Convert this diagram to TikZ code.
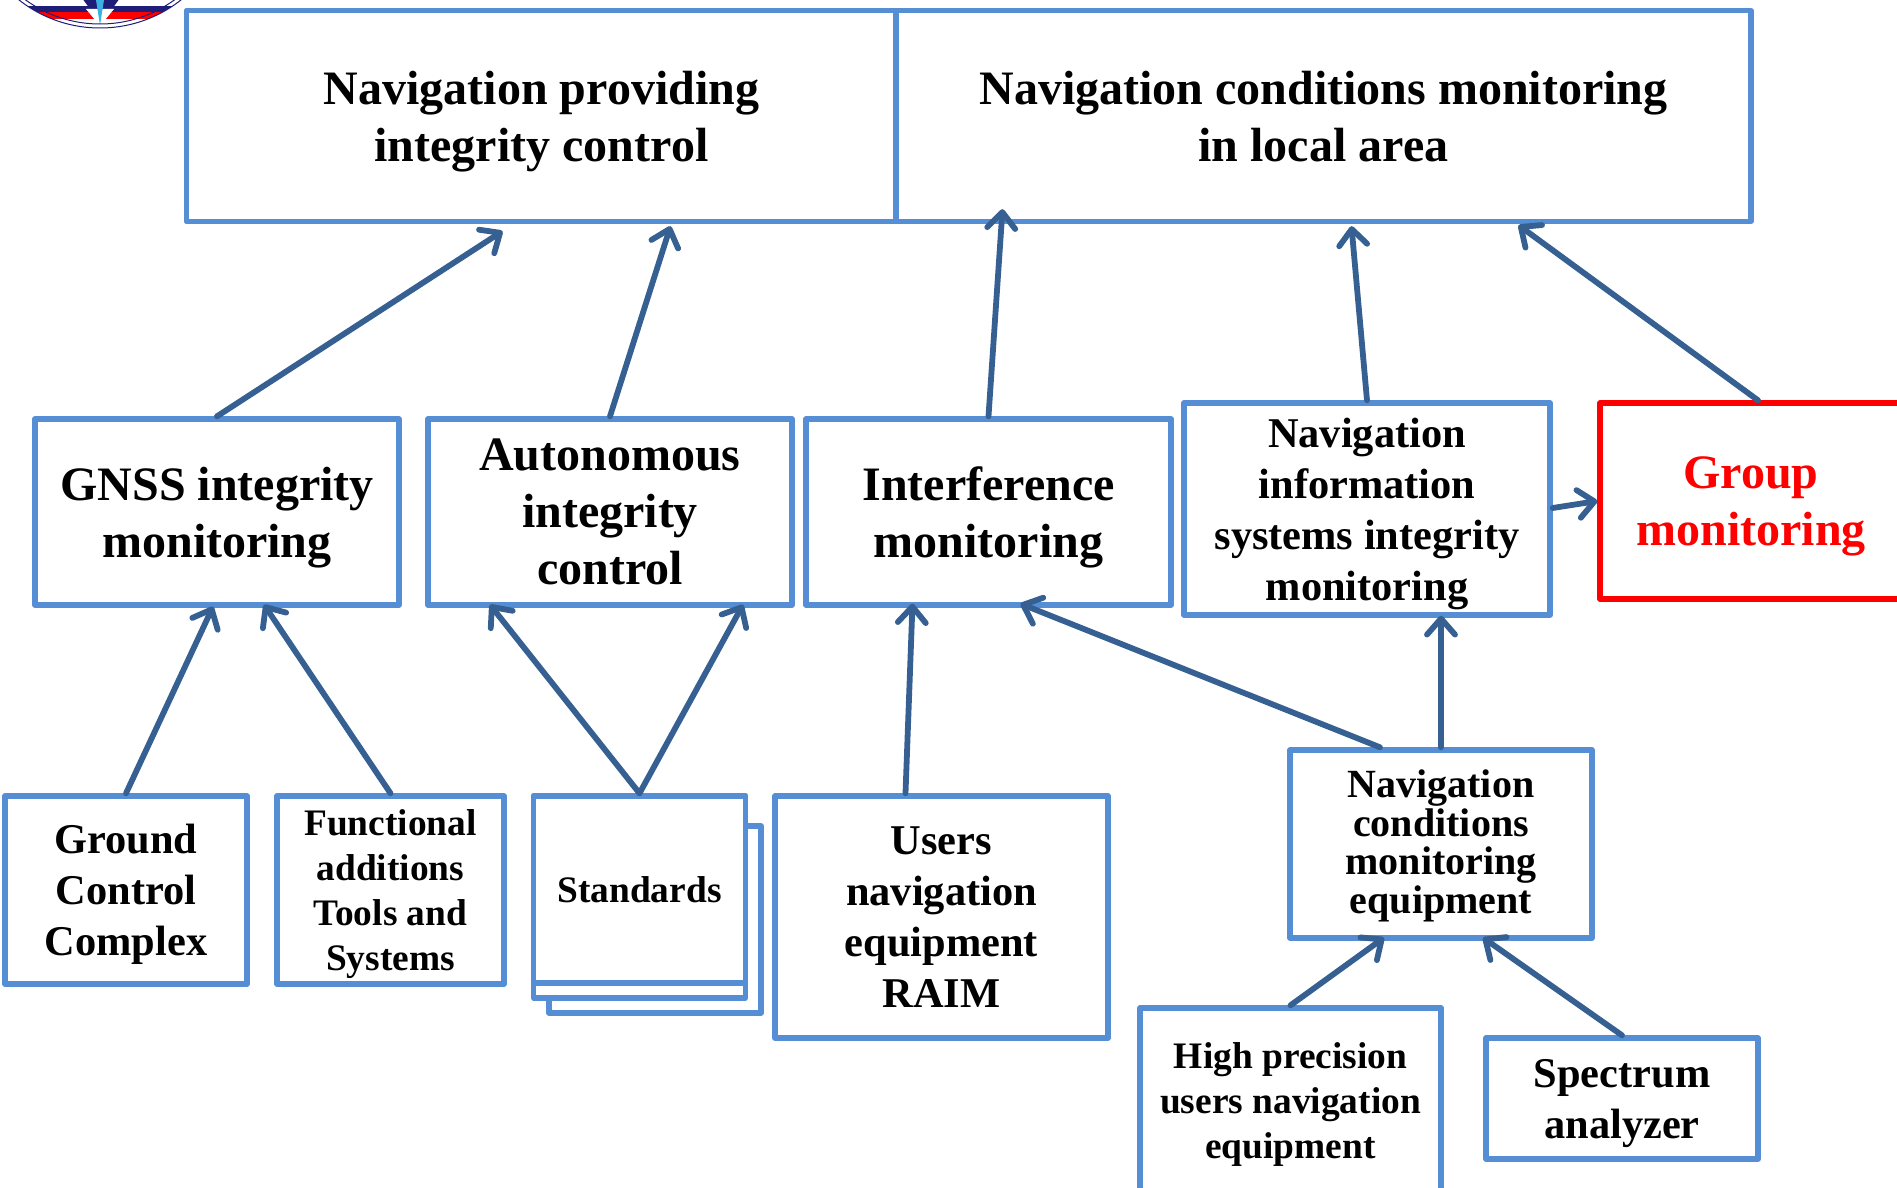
\documentclass[tikz,border=0pt]{standalone}
\usepackage{fontspec}
\setmainfont{Liberation Serif}
\usetikzlibrary{arrows.meta,calc}
\definecolor{myblue}{RGB}{85,142,213}
\definecolor{myarrow}{RGB}{54,96,146}
\definecolor{myred}{RGB}{255,0,0}
\definecolor{mynavy}{RGB}{30,30,120}
\newcommand{\fontbig}{\fontsize{24}{28.5}\selectfont\bfseries}
\newcommand{\fontmid}{\fontsize{21.2}{25.5}\selectfont\bfseries}
\newcommand{\fonttight}{\fontsize{20}{19.4}\selectfont\bfseries}
\newcommand{\fontsmall}{\fontsize{18.7}{22.4}\selectfont\bfseries}
\tikzset{
    common/.style={draw=myblue, line width=2.7pt, fill=white, align=center, inner sep=0pt, line join=round},
    bigbox/.style={common, font=\fontbig, text depth=-2.4pt},
    midbox/.style={common, font=\fontmid, text depth=-4pt},
    tightbox/.style={common, font=\fonttight, text depth=2.4pt},
    smallbox/.style={common, font=\fontsmall, text depth=-4.6pt},
    redbox/.style={bigbox, draw=myred, text=myred},
    % w and h are in pixels of the picture
    size/.style 2 args={minimum width=#1*0.5pt, minimum height=#2*0.5pt},
    link/.style={draw=myarrow, line width=2.9pt, line cap=round,
        -{Straight Barb[length=8pt, width=14pt, line width=2.9pt, round]}}
}
\begin{document}
\begin{tikzpicture}[x=0.5pt, y=-0.5pt]
    \clip (0,0) rectangle (1897,1188);

    % emblem, cut by the top edge
    \begin{scope}
        \clip (100,-103) circle (131);
        \fill[white] (-40,-10) rectangle (240,30);
        \fill[mynavy] (-40,6) rectangle (240,12);
        \fill[myred] (-40,12) rectangle (240,19);
        \fill[mynavy] (82,-2) -- (120,-2) -- (112,9) -- (90,9) -- cycle;
        \fill[white] (86,9) -- (114,9) -- (100,26) -- cycle;
        \fill[myblue!70!cyan] (96,0) -- (104,0) -- (100,25) -- cycle;
    \end{scope}
    \draw[mynavy, line width=0.5pt] (100,-103) circle (131) (100,-103) circle (127);

    % top row
    \node[bigbox, size={710}{211}] (providing) at (541.5,116) {Navigation providing\\integrity control};
    \node[bigbox, size={855}{211}] (conditions) at (1323.5,116) {Navigation conditions monitoring\\in local area};

    % middle row
    \node[bigbox, size={364}{186}] (gnss) at (217,512) {GNSS integrity\\monitoring};
    \node[bigbox, size={364}{186}] (autonomous) at (610,512) {Autonomous\\integrity\\control};
    \node[bigbox, size={365}{186}] (interference) at (988.5,512) {Interference\\monitoring};
    \node[midbox, size={366}{212}] (information) at (1367,509) {Navigation\\information\\systems integrity\\monitoring};
    \node[redbox, size={302}{196}, text depth=-4pt] (group) at (1751,501) {Group\\monitoring};

    % bottom row
    \node[midbox, size={242}{188}] (ground) at (126,890) {Ground\\Control\\Complex};
    \node[smallbox, size={227}{188}] (functional) at (390.5,890) {Functional\\additions\\Tools and\\Systems};
    \node[smallbox, size={212}{187}] (sheetc) at (655,919.5) {};
    \node[smallbox, size={212}{202}] (sheetb) at (639.5,897) {};
    \node[smallbox, size={212}{187}, text depth=-5.2pt] (standards) at (639.5,889.5) {Standards};
    \node[midbox, size={333}{242}] (users) at (941.5,917) {Users\\navigation\\equipment\\RAIM};
    \node[tightbox, size={302}{188}] (equipment) at (1441,844) {Navigation\\conditions\\monitoring\\equipment};
    \node[smallbox, size={301}{190}, text depth=2.4pt] (precision) at (1290.5,1103) {High precision\\users navigation\\equipment};
    \node[midbox, size={272}{121}] (spectrum) at (1622,1098.5) {Spectrum\\analyzer};

    % links upward
    \draw[link] (gnss.north) -- ($(providing.south)+(-39,7)$);
    \draw[link] (autonomous.north) -- ($(providing.south)+(129,2)$);
    \draw[link] (interference.north) -- ($(conditions.south)+(-321,-15)$);
    \draw[link] (information.north) -- ($(conditions.south)+(28,2)$);
    \draw[link] (group.north) ++(7,0) -- ($(conditions.south)+(195,1)$);
    \draw[link] (information.east) ++(0,-1) -- (group.west);
    \draw[link] (ground.north) -- ($(gnss.south)+(-4,-1)$);
    \draw[link] (functional.north) -- ($(gnss.south)+(47,-3)$);
    \draw[link] (standards.north) -- ($(autonomous.south)+(-120,-3)$);
    \draw[link] (standards.north) -- ($(autonomous.south)+(133,-3)$);
    \draw[link] (users.north) ++(-36,0) -- ($(interference.south)+(-76,-4)$);
    \draw[link] (equipment.north) ++(-61,0) -- ($(interference.south)+(32,-4)$);
    \draw[link] (equipment.north) -- ($(information.south)+(74,-2)$);
    \draw[link] (precision.north) -- ($(equipment.south)+(-57,-3)$);
    \draw[link] (spectrum.north) -- ($(equipment.south)+(42,-3)$);
\end{tikzpicture}
\end{document}
